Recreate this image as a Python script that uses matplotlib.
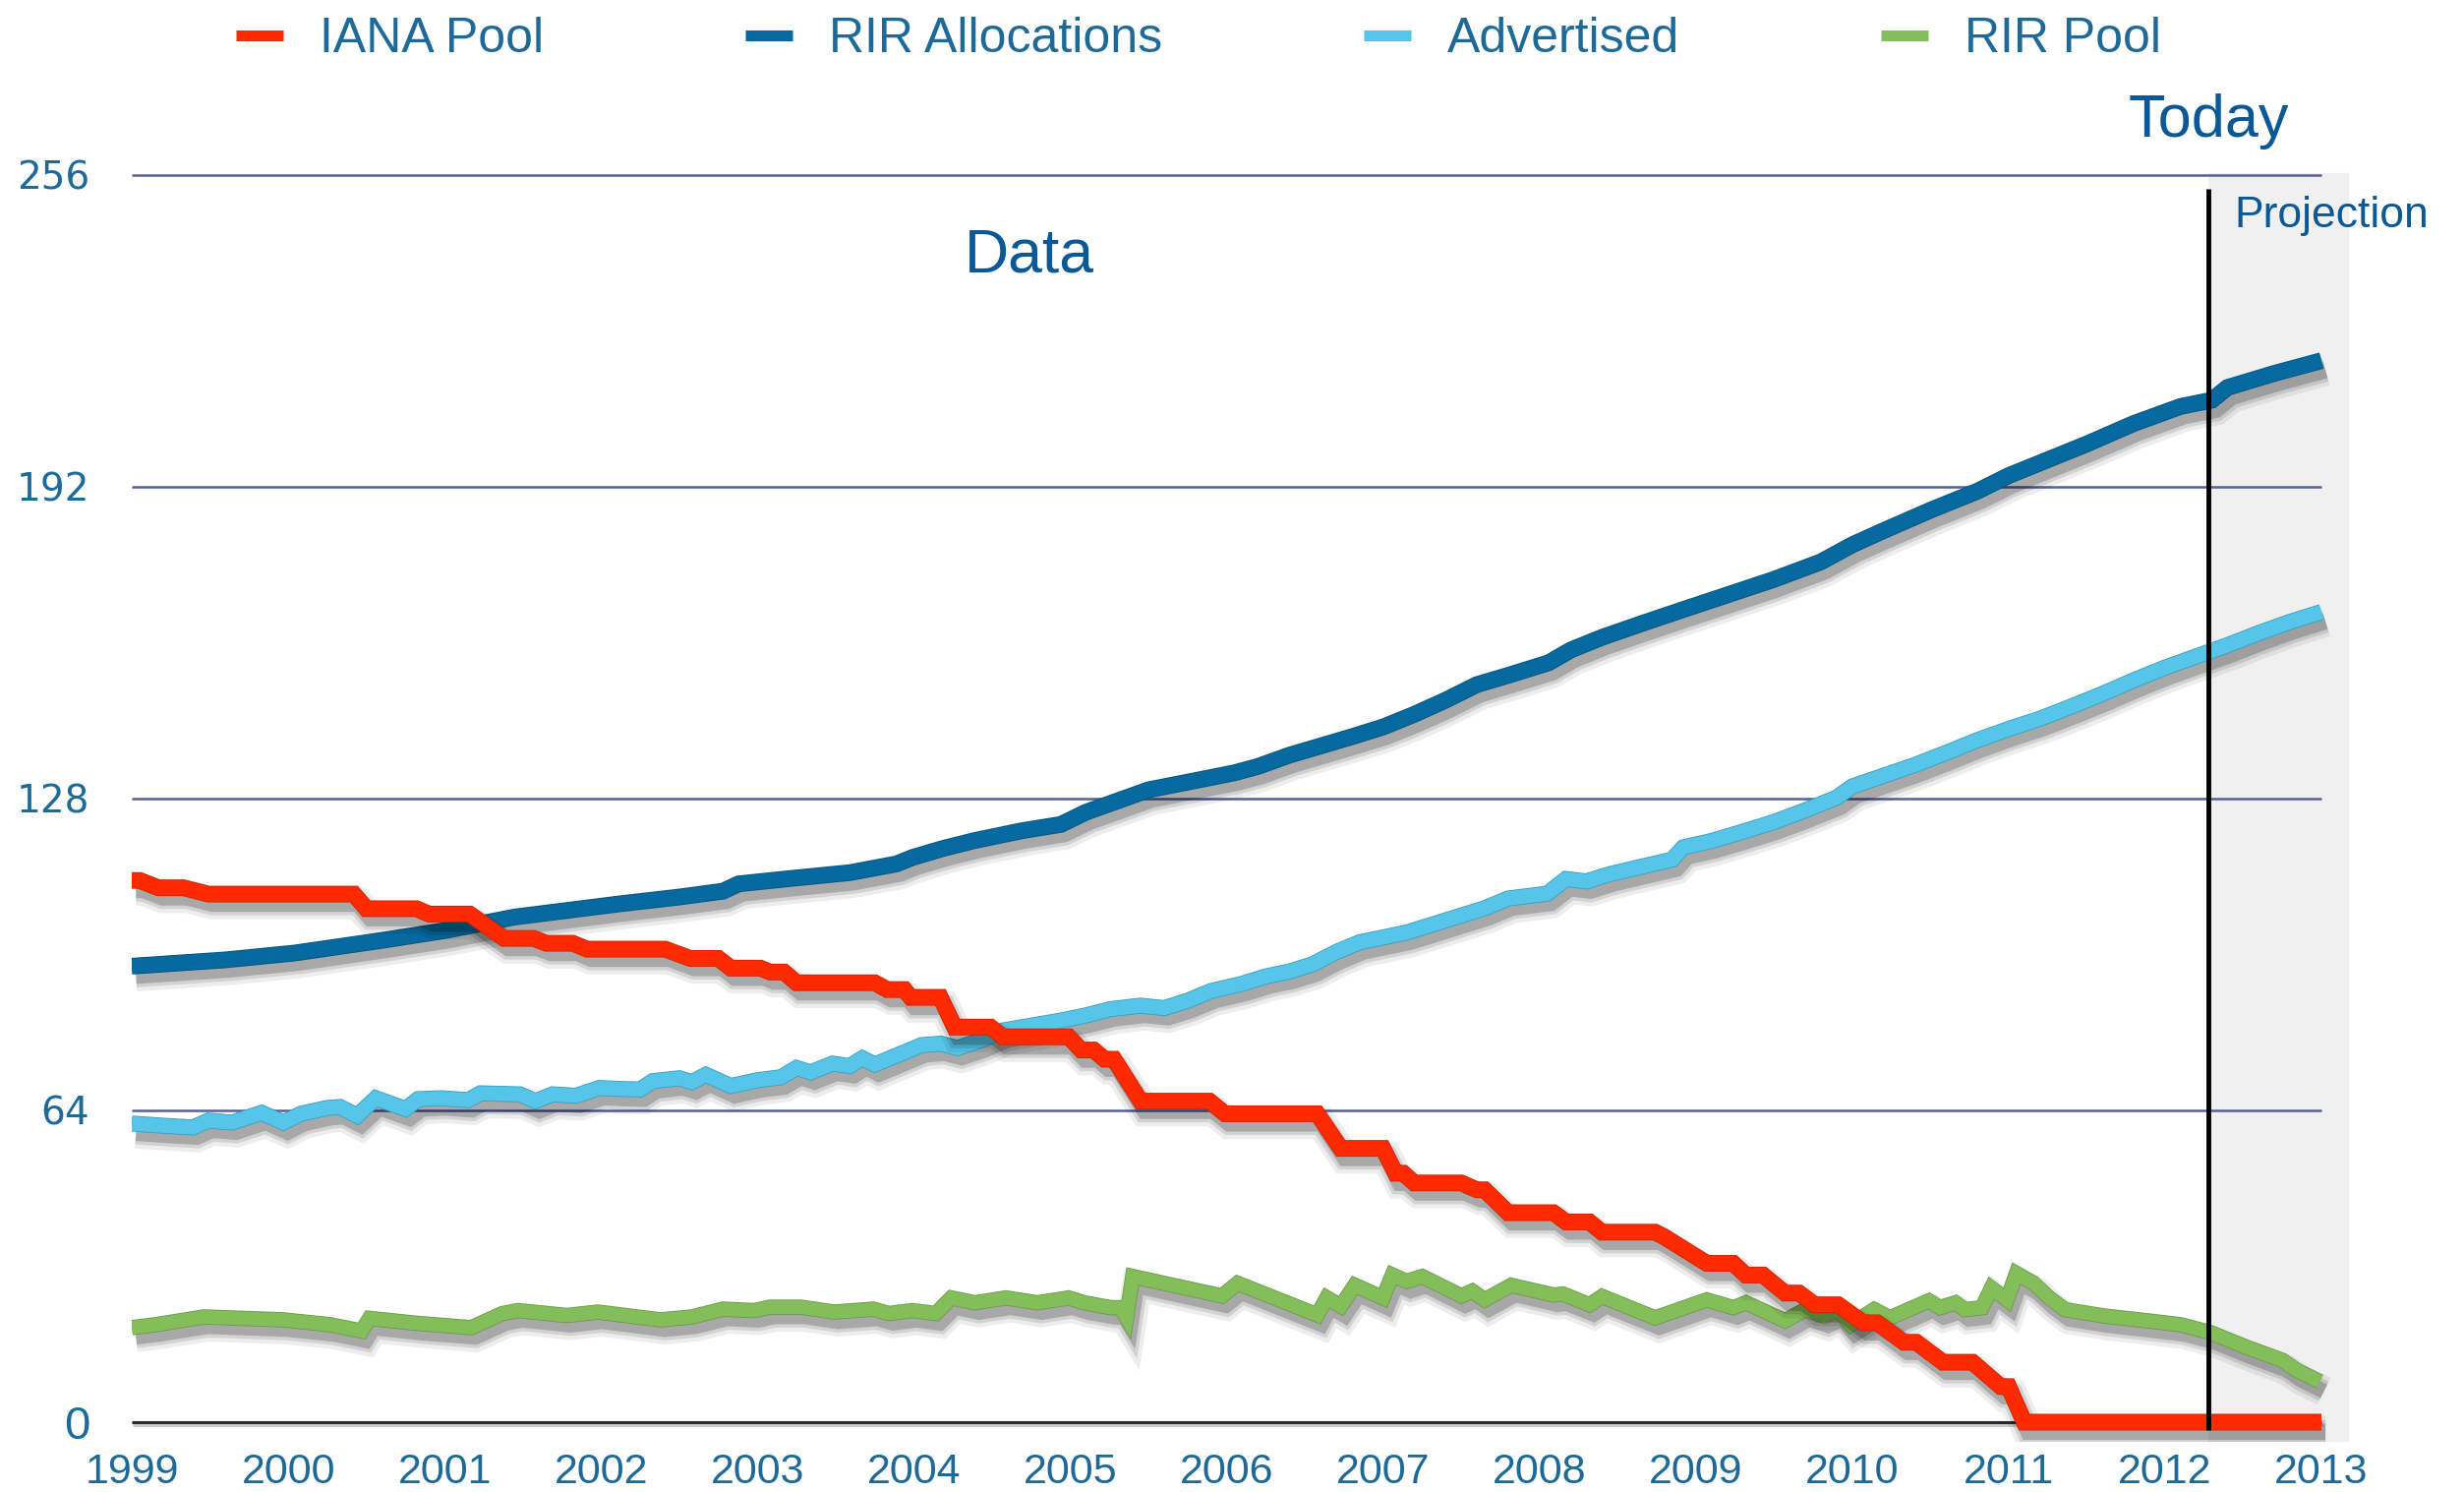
import matplotlib
matplotlib.use("Agg")
import matplotlib.pyplot as plt
import matplotlib.patheffects as pe
from matplotlib.lines import Line2D

plt.rcParams['font.family'] = ['Liberation Sans', 'DejaVu Sans']

# IANA pool (/8s)
iana_years = [1999.00, 1999.05, 1999.17, 1999.33, 1999.49, 2000.42, 2000.50, 2000.82, 2000.90,
              2001.16, 2001.38, 2001.57, 2001.65, 2001.82, 2001.91, 2002.41, 2002.57, 2002.75,
              2002.83, 2003.02, 2003.08, 2003.17, 2003.25, 2003.75, 2003.83, 2003.94, 2003.98,
              2004.17, 2004.26, 2004.49, 2004.57, 2004.99, 2005.07, 2005.15, 2005.22, 2005.28,
              2005.45, 2005.89, 2005.99, 2006.58, 2006.73, 2007.00, 2007.08, 2007.13, 2007.20,
              2007.50, 2007.60, 2007.65, 2007.80, 2008.09, 2008.17, 2008.32, 2008.40, 2008.74,
              2008.80, 2009.07, 2009.24, 2009.32, 2009.43, 2009.57, 2009.66, 2009.76, 2009.91,
              2010.07, 2010.16, 2010.33, 2010.41, 2010.58, 2010.77, 2010.95, 2011.00, 2011.10,
              2013.00]
iana_vals = [111.2, 111.2, 109.7, 109.7, 108.4, 108.4, 105.4, 105.4, 104.3,
             104.3, 99.3, 99.3, 98.3, 98.3, 97.1, 97.1, 95.2, 95.2,
             93.2, 93.2, 92.4, 92.4, 90.2, 90.2, 88.8, 88.8, 87.2,
             87.2, 81.1, 81.1, 79.1, 79.1, 76.4, 76.4, 74.5, 74.5,
             65.9, 65.9, 63.3, 63.3, 56.2, 56.2, 51.1, 51.1, 49.1,
             49.1, 47.7, 47.7, 43.0, 43.0, 41.1, 41.1, 39.0, 39.0,
             38.0, 32.6, 32.6, 30.2, 30.2, 26.5, 26.5, 24.1, 24.1,
             20.4, 20.4, 16.4, 16.4, 12.3, 12.3, 7.3, 7.3, 0.0,
             0.0]

# RIR allocations
alloc_years = [1999.00, 1999.60, 2000.04, 2000.60, 2001.00, 2001.45, 2002.12, 2002.50, 2002.78,
               2002.88, 2003.18, 2003.59, 2003.89, 2003.99, 2004.19, 2004.39, 2004.69, 2004.94,
               2005.10, 2005.30, 2005.50, 2005.80, 2006.05, 2006.20, 2006.40, 2006.60, 2006.80,
               2007.00, 2007.20, 2007.40, 2007.60, 2007.80, 2008.06, 2008.20, 2008.40, 2008.66,
               2008.90, 2009.20, 2009.50, 2009.80, 2010.00, 2010.20, 2010.50, 2010.80, 2011.00,
               2011.20, 2011.50, 2011.80, 2012.10, 2012.30, 2012.40, 2012.70, 2013.00]
alloc_vals = [93.6, 94.9, 96.3, 98.9, 100.9, 103.7, 106.4, 107.8, 109.0,
              110.5, 111.5, 112.8, 114.6, 115.9, 117.8, 119.4, 121.4, 122.7,
              125.2, 127.5, 129.8, 131.7, 133.3, 134.6, 136.9, 138.8, 140.7,
              142.7, 145.3, 148.2, 151.4, 153.3, 155.9, 158.5, 161.1, 164.0,
              166.6, 169.8, 173.0, 176.6, 180.1, 183.0, 187.2, 191.1, 194.3,
              196.9, 200.8, 205.0, 208.5, 209.8, 212.4, 215.3, 217.9]

# Advertised
adv_years = [1999.00, 1999.18, 1999.39, 1999.49, 1999.64, 1999.83, 1999.97, 2000.08, 2000.25,
             2000.33, 2000.44, 2000.56, 2000.75, 2000.83, 2000.98, 2001.15, 2001.23, 2001.48,
             2001.58, 2001.69, 2001.84, 2001.99, 2002.12, 2002.25, 2002.33, 2002.50, 2002.58,
             2002.67, 2002.83, 2003.00, 2003.15, 2003.25, 2003.34, 2003.48, 2003.59, 2003.67,
             2003.75, 2003.90, 2004.05, 2004.17, 2004.28, 2004.43, 2004.57, 2004.95, 2005.10,
             2005.26, 2005.45, 2005.60, 2005.75, 2005.90, 2006.10, 2006.25, 2006.40, 2006.55,
             2006.70, 2006.85, 2007.00, 2007.15, 2007.30, 2007.45, 2007.65, 2007.80, 2008.05,
             2008.17, 2008.30, 2008.45, 2008.65, 2008.85, 2008.92, 2009.10, 2009.30, 2009.50,
             2009.70, 2009.90, 2010.00, 2010.20, 2010.40, 2010.60, 2010.80, 2011.00, 2011.20,
             2011.40, 2011.60, 2011.80, 2012.00, 2012.20, 2012.40, 2012.60, 2012.80, 2013.00]
adv_vals = [61.3, 60.9, 60.5, 61.9, 61.5, 63.5, 61.5, 63.3, 64.5,
            64.7, 62.9, 66.5, 64.3, 66.3, 66.5, 66.1, 67.5, 67.3,
            65.9, 67.3, 67.0, 68.6, 68.4, 68.3, 70.0, 70.6, 69.8,
            71.3, 69.0, 70.2, 70.8, 72.7, 71.8, 73.6, 73.1, 74.7,
            73.4, 75.4, 77.4, 77.7, 76.8, 78.4, 80.4, 82.5, 83.5,
            84.8, 85.5, 85.0, 86.5, 88.5, 90.0, 91.5, 92.5, 94.0,
            96.5, 98.5, 99.5, 100.5, 102.0, 103.5, 105.5, 107.5, 108.5,
            111.5, 111.0, 112.5, 114.0, 115.5, 118.0, 119.3, 121.2, 123.2,
            125.6, 128.2, 130.5, 132.7, 134.9, 137.4, 140.0, 142.3, 144.4,
            146.9, 149.5, 152.3, 154.9, 157.2, 159.5, 162.0, 164.3, 166.3]

# RIR pool
pool_years = [1999.00, 1999.15, 1999.46, 1999.97, 2000.27, 2000.47, 2000.52, 2000.82, 2001.17,
              2001.37, 2001.47, 2001.78, 2001.98, 2002.38, 2002.58, 2002.78, 2002.98, 2003.08,
              2003.28, 2003.49, 2003.74, 2003.84, 2003.99, 2004.14, 2004.24, 2004.39, 2004.59,
              2004.79, 2004.99, 2005.09, 2005.26, 2005.32, 2005.36, 2005.40, 2005.97, 2006.07,
              2006.58, 2006.64, 2006.73, 2006.82, 2007.00, 2007.06, 2007.15, 2007.25, 2007.50,
              2007.57, 2007.65, 2007.82, 2008.09, 2008.15, 2008.32, 2008.40, 2008.74, 2009.07,
              2009.24, 2009.32, 2009.57, 2009.70, 2009.82, 2009.91, 2009.99, 2010.14, 2010.24,
              2010.49, 2010.56, 2010.66, 2010.72, 2010.83, 2010.89, 2010.99, 2011.05, 2011.16,
              2011.26, 2011.36, 2011.61, 2011.89, 2012.10, 2012.29, 2012.52, 2012.75, 2012.84,
              2012.99]
pool_vals = [19.4, 20.0, 21.6, 21.0, 20.0, 18.7, 21.3, 20.3, 19.4,
             22.3, 22.9, 21.9, 22.6, 21.0, 21.6, 23.2, 22.9, 23.6,
             23.6, 22.6, 23.2, 22.3, 22.9, 22.3, 25.5, 24.5, 25.5,
             24.5, 25.5, 24.5, 23.5, 23.5, 21.4, 29.9, 25.9, 28.5,
             22.0, 25.5, 23.8, 28.1, 25.5, 30.2, 28.9, 29.9, 25.9,
             26.9, 25.1, 28.1, 26.1, 26.3, 24.1, 25.8, 21.4, 25.1,
             23.5, 24.5, 20.8, 23.1, 21.8, 23.1, 20.0, 23.1, 21.4,
             24.9, 23.5, 24.5, 23.1, 23.5, 27.5, 25.1, 30.5, 28.5,
             25.5, 23.1, 21.8, 20.8, 20.0, 18.4, 15.4, 12.7, 10.7,
             8.3]

year_ticks = list(range(1999, 2014))
value_ticks = [0, 64, 128, 192, 256]
today = 2012.28

text_blue = '#1d6a98'
title_blue = '#0b5896'

fig = plt.figure(figsize=(25.06, 15.17), dpi=100)
ax = fig.add_axes([0.0535, 0.03375, 0.9045, 0.8783])
ax.set_xlim(1999, 2013.25)
ax.set_ylim(-4, 265)
for s in ax.spines.values():
    s.set_visible(False)

# projection shading and grid
ax.axvspan(today, 2013.17, ymin=0, ymax=(256.5 + 4) / 269, color='#f0f0f0', zorder=0)
ax.hlines([64, 128, 192, 256], 1999, 2013, color='#56609c', lw=1.8, zorder=1)
ax.hlines(0, 1999, 2013, color='#2a2a2a', lw=2.2, zorder=1,
          path_effects=[pe.SimpleLineShadow(offset=(1, -2), shadow_color='k', alpha=0.2), pe.Normal()])


def shadow(lw, edge):
    # soft drop shadow built from a few widening translucent copies
    return [pe.SimpleLineShadow(offset=(3, -7), shadow_color='k', alpha=0.07, linewidth=lw + 12),
            pe.SimpleLineShadow(offset=(3, -7), shadow_color='k', alpha=0.11, linewidth=lw + 6),
            pe.SimpleLineShadow(offset=(3, -7), shadow_color='k', alpha=0.2, linewidth=lw + 1),
            pe.Stroke(linewidth=lw + 1.2, foreground=edge),
            pe.Normal()]


series = [
    (pool_years, pool_vals, '#84be5a', '#6a9a48', 10.0),
    (adv_years, adv_vals, '#55c5e9', '#3c9cbc', 10.5),
    (alloc_years, alloc_vals, '#0669a0', '#05527c', 11.0),
    (iana_years, iana_vals, '#ff2a00', '#d02200', 11.0),
]
for i, (xs, ys, c, edge, lw) in enumerate(series):
    ax.plot(xs, ys, color=c, lw=lw, solid_joinstyle='miter', solid_capstyle='butt',
            zorder=3 + i, path_effects=shadow(lw, edge))

ax.vlines(today, -1.6, 253.2, color='black', lw=3.5, zorder=10)

ax.text(today, 267, 'Today', ha='center', va='center', fontsize=44, color=title_blue, clip_on=False)
ax.text(2004.74, 239.5, 'Data', ha='center', va='center', fontsize=45, color=title_blue)
ax.text(2012.44, 247.7, 'Projection', ha='left', va='center', fontsize=32, color=title_blue, clip_on=False)

ax.set_xticks(year_ticks)
ax.set_xticklabels([str(y) for y in year_ticks])
ax.set_yticks(value_ticks)
ax.set_yticklabels([str(v) for v in value_ticks])
ax.tick_params(axis='x', length=0, pad=8, labelsize=31, labelcolor=text_blue)
ax.tick_params(axis='y', length=0, pad=31, labelsize=28, labelcolor=text_blue)
for lab in ax.get_yticklabels():
    if lab.get_text() == '0':
        lab.set_fontfamily('Liberation Sans')
        lab.set_fontsize(34)
    else:
        lab.set_fontfamily('DejaVu Sans')

handles = [Line2D([], [], color=c, lw=8, solid_capstyle='butt') for _, _, c, _, _ in series[::-1]]
labels = ['IANA Pool', 'RIR Allocations', 'Advertised', 'RIR Pool']
fig.legend(handles, labels, loc='center', bbox_to_anchor=(1219 / 2506, 1 - 40 / 1517), ncol=4,
           frameon=False, fontsize=36, handlelength=0.96, handletextpad=0.74, columnspacing=4.1,
           labelcolor=text_blue)

fig.savefig('out.png', dpi=100, facecolor='white')
